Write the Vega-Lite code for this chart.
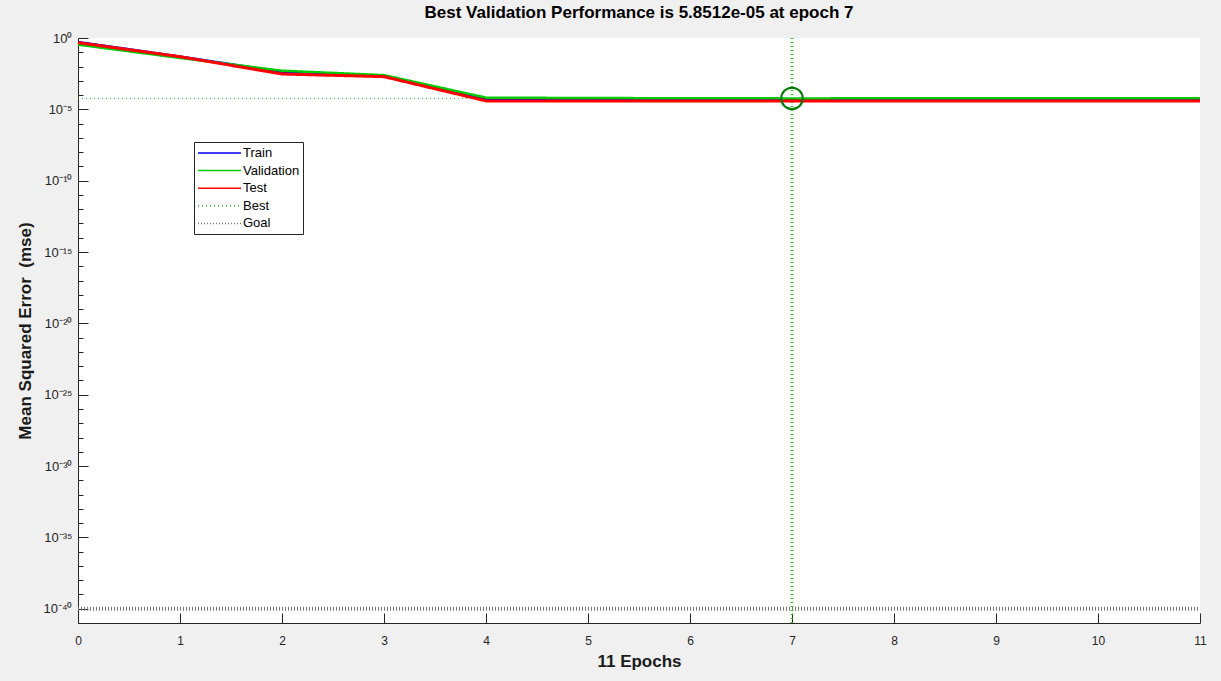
{
  "$schema": "https://vega.github.io/schema/vega-lite/v6.json",
  "width": 1122,
  "height": 585,
  "autosize": {"type": "none"},
  "padding": {"left": 78, "top": 38, "right": 21, "bottom": 58},
  "background": "#f0f0f0",
  "config": {
    "view": {"fill": "white", "stroke": null},
    "font": "Liberation Sans",
    "axis": {"grid": false, "zindex": 1, "domainColor": "#262626", "tickColor": "#262626", "tickWidth": 1, "labelColor": "#262626", "titleColor": "#1a1a1a", "labelFontSize": 12, "titleFontSize": 17, "titleFontWeight": "bold", "labelFont": "Liberation Sans", "titleFont": "Liberation Sans"},
    "legend": {"labelFont": "Liberation Sans"}
  },
  "title": {"text": "Best Validation Performance is 5.8512e-05 at epoch 7", "fontSize": 17, "fontWeight": "bold", "font": "Liberation Sans", "color": "#000000", "anchor": "middle", "offset": 10},
  "resolve": {"axis": {"x": "independent", "y": "independent"}},
  "datasets": {
    "perf": [
      {"epoch": 0, "series": "Train", "mse": 0.52},
      {"epoch": 1, "series": "Train", "mse": 0.05},
      {"epoch": 2, "series": "Train", "mse": 0.0042},
      {"epoch": 3, "series": "Train", "mse": 0.0022},
      {"epoch": 4, "series": "Train", "mse": 0.00005},
      {"epoch": 5, "series": "Train", "mse": 0.00005},
      {"epoch": 6, "series": "Train", "mse": 0.00005},
      {"epoch": 7, "series": "Train", "mse": 0.00005},
      {"epoch": 8, "series": "Train", "mse": 0.00005},
      {"epoch": 9, "series": "Train", "mse": 0.00005},
      {"epoch": 10, "series": "Train", "mse": 0.00005},
      {"epoch": 11, "series": "Train", "mse": 0.00005},
      {"epoch": 0, "series": "Validation", "mse": 0.34},
      {"epoch": 1, "series": "Validation", "mse": 0.04},
      {"epoch": 2, "series": "Validation", "mse": 0.0051},
      {"epoch": 3, "series": "Validation", "mse": 0.0025},
      {"epoch": 4, "series": "Validation", "mse": 0.000066},
      {"epoch": 5, "series": "Validation", "mse": 0.000062},
      {"epoch": 6, "series": "Validation", "mse": 0.00006},
      {"epoch": 7, "series": "Validation", "mse": 0.000058512},
      {"epoch": 8, "series": "Validation", "mse": 0.000059},
      {"epoch": 9, "series": "Validation", "mse": 0.000059},
      {"epoch": 10, "series": "Validation", "mse": 0.000059},
      {"epoch": 11, "series": "Validation", "mse": 0.000059},
      {"epoch": 0, "series": "Test", "mse": 0.47},
      {"epoch": 1, "series": "Test", "mse": 0.049},
      {"epoch": 2, "series": "Test", "mse": 0.003},
      {"epoch": 3, "series": "Test", "mse": 0.00195},
      {"epoch": 4, "series": "Test", "mse": 0.000039},
      {"epoch": 5, "series": "Test", "mse": 0.000039},
      {"epoch": 6, "series": "Test", "mse": 0.000039},
      {"epoch": 7, "series": "Test", "mse": 0.000039},
      {"epoch": 8, "series": "Test", "mse": 0.000039},
      {"epoch": 9, "series": "Test", "mse": 0.000039},
      {"epoch": 10, "series": "Test", "mse": 0.000039},
      {"epoch": 11, "series": "Test", "mse": 0.000039}
    ],
    "hlines": [
      {"series": "Best", "mse": 0.000058512},
      {"series": "Goal", "mse": 1e-40}
    ],
    "vlines": [
      {"series": "Best", "epoch": 7}
    ],
    "best": [
      {"epoch": 7, "mse": 0.000058512}
    ]
  },
  "layer": [
    {
      "data": {"name": "hlines"},
      "mark": {"type": "rule"},
      "encoding": {
        "x": {"value": 0},
        "x2": {"value": "width"},
        "y": {"field": "mse", "type": "quantitative", "scale": {"type": "log", "domain": [1e-41, 1], "nice": false},
          "axis": {"orient": "left", "title": null, "labels": false, "domain": false, "offset": -10, "tickSize": 10,
            "values": [1,1e-5,1e-10,1e-15,1e-20,1e-25,1e-30,1e-35,1e-40]}},
        "color": {"field": "series", "type": "nominal"},
        "strokeDash": {"field": "series", "type": "nominal"},
        "strokeWidth": {"field": "series", "type": "nominal"}
      }
    },
    {
      "data": {"name": "vlines"},
      "mark": {"type": "rule"},
      "encoding": {
        "x": {"field": "epoch", "type": "quantitative", "scale": {"domain": [0, 11], "nice": false, "zero": false},
          "axis": {"orient": "bottom", "title": null, "labels": false, "domain": false, "offset": -10, "tickSize": 10,
            "values": [0,1,2,3,4,5,6,7,8,9,10,11]}},
        "y": {"value": 0},
        "y2": {"value": "height"},
        "color": {"field": "series", "type": "nominal"},
        "strokeDash": {"field": "series", "type": "nominal"},
        "strokeWidth": {"field": "series", "type": "nominal"}
      }
    },
    {
      "data": {"name": "perf"},
      "transform": [{"filter": "datum.series == 'Train'"}],
      "mark": {"type": "line"},
      "encoding": {
        "x": {"field": "epoch", "type": "quantitative",
          "axis": {"orient": "bottom", "title": "11 Epochs", "values": [0,1,2,3,4,5,6,7,8,9,10,11], "ticks": false, "labelPadding": 12, "titlePadding": 7, "labelFlush": false}},
        "y": {"field": "mse", "type": "quantitative",
          "axis": {"orient": "left", "title": "Mean Squared Error\u00a0\u00a0(mse)", "values": [1,1e-5,1e-10,1e-15,1e-20,1e-25,1e-30,1e-35,1e-40],
            "ticks": false, "labelPadding": 6, "labelFontSize": 13, "titlePadding": 8, "labelFlush": false, "labelOverlap": false,
            "labelExpr": "round(log(datum.value)/LN10)==0?'10⁰':round(log(datum.value)/LN10)==-5?'10⁻⁵':round(log(datum.value)/LN10)==-10?'10⁻¹⁰':round(log(datum.value)/LN10)==-15?'10⁻¹⁵':round(log(datum.value)/LN10)==-20?'10⁻²⁰':round(log(datum.value)/LN10)==-25?'10⁻²⁵':round(log(datum.value)/LN10)==-30?'10⁻³⁰':round(log(datum.value)/LN10)==-35?'10⁻³⁵':'10⁻⁴⁰'"}},
        "color": {"field": "series", "type": "nominal"},
        "strokeDash": {"field": "series", "type": "nominal"},
        "strokeWidth": {"field": "series", "type": "nominal"}
      }
    },
    {
      "data": {"name": "perf"},
      "transform": [{"filter": "datum.series == 'Validation'"}],
      "mark": {"type": "line"},
      "encoding": {
        "x": {"field": "epoch", "type": "quantitative", "axis": null},
        "y": {"field": "mse", "type": "quantitative",
          "axis": {"orient": "left", "title": null, "labels": false, "domain": false, "offset": -5, "tickSize": 5,
            "values": [1,1e-1,1e-2,1e-3,1e-4,1e-5,1e-6,1e-7,1e-8,1e-9,1e-10,1e-11,1e-12,1e-13,1e-14,1e-15,1e-16,1e-17,1e-18,1e-19,1e-20,1e-21,1e-22,1e-23,1e-24,1e-25,1e-26,1e-27,1e-28,1e-29,1e-30,1e-31,1e-32,1e-33,1e-34,1e-35,1e-36,1e-37,1e-38,1e-39,1e-40]}},
        "color": {"field": "series", "type": "nominal"},
        "strokeDash": {"field": "series", "type": "nominal"},
        "strokeWidth": {"field": "series", "type": "nominal"}
      }
    },
    {
      "data": {"name": "perf"},
      "transform": [{"filter": "datum.series == 'Test'"}],
      "mark": {"type": "line"},
      "encoding": {
        "x": {"field": "epoch", "type": "quantitative", "axis": null},
        "y": {"field": "mse", "type": "quantitative", "axis": null},
        "color": {"field": "series", "type": "nominal",
          "scale": {"domain": ["Train", "Validation", "Test", "Best", "Goal"], "range": ["#0000ff", "#00cc00", "#ff0000", "#22bb22", "#777777"]},
          "legend": {"title": null, "orient": "none", "legendX": 116, "legendY": 104, "fillColor": "white", "strokeColor": "#262626", "padding": 3, "symbolType": "M-1,0H5.14", "symbolSize": 196, "labelFontSize": 13, "labelColor": "#000000", "labelOffset": 30, "rowPadding": 2.6, "symbolStrokeColor": null}},
        "strokeDash": {"field": "series", "type": "nominal",
          "scale": {"domain": ["Train", "Validation", "Test", "Best", "Goal"], "range": [[1,0],[1,0],[1,0],[1,3],[1,2]]}},
        "strokeWidth": {"field": "series", "type": "nominal",
          "scale": {"type": "ordinal", "domain": ["Train", "Validation", "Test", "Best", "Goal"], "range": [3,3,3,1,1]}}
      }
    },
    {
      "data": {"name": "best"},
      "mark": {"type": "point", "shape": "circle", "filled": false, "stroke": "#007a00", "strokeWidth": 2, "size": 460, "opacity": 1},
      "encoding": {
        "x": {"field": "epoch", "type": "quantitative", "axis": null},
        "y": {"field": "mse", "type": "quantitative", "axis": null}
      }
    }
  ]
}
